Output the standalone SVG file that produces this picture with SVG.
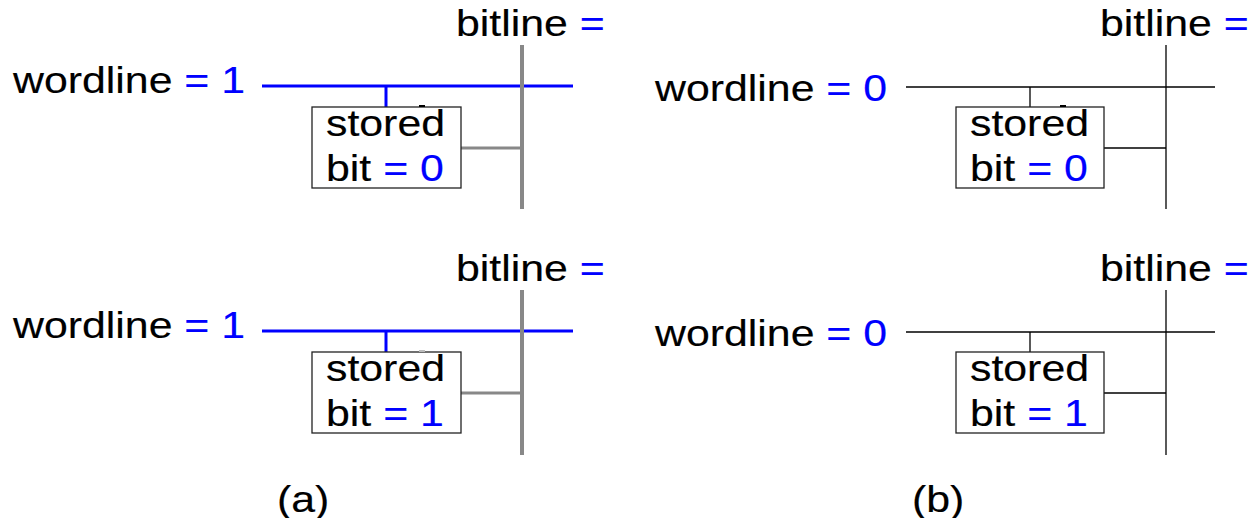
<svg xmlns="http://www.w3.org/2000/svg" width="1253" height="518" viewBox="0 0 1253 518">
<style>
text{font-family:"Liberation Sans",Arial,sans-serif;font-size:36px;fill:#000;stroke:#000;stroke-width:0.15}
.b{fill:#0000ff;stroke:#0000ff}
.wl1{stroke:#0000ff;stroke-width:3;fill:none}
.bl1{stroke:#888888;stroke-width:4;fill:none}
.bl1h{stroke:#888888;stroke-width:3;fill:none}
.thin{stroke:#000;stroke-width:1.3;fill:none}
.box{fill:#fff;stroke:#222;stroke-width:1.3}
.tick{stroke:#000;stroke-width:2}
.tickg{stroke:#bbb;stroke-width:2}
</style>
<rect width="1253" height="518" fill="#fff"/>
<g id="connectors">
  <!-- (a) top -->
  <line class="wl1" x1="262" y1="86" x2="573" y2="86"/>
  <line class="wl1" x1="386" y1="86" x2="386" y2="107"/>
  <line class="bl1" x1="522" y1="45" x2="522" y2="209"/>
  <line class="bl1h" x1="461" y1="148" x2="522" y2="148"/>
  <!-- (a) bottom -->
  <line class="wl1" x1="262" y1="331" x2="573" y2="331"/>
  <line class="wl1" x1="386" y1="331" x2="386" y2="352"/>
  <line class="bl1" x1="522" y1="290" x2="522" y2="455"/>
  <line class="bl1h" x1="461" y1="393" x2="522" y2="393"/>
  <!-- (b) top -->
  <line class="thin" x1="906" y1="87" x2="1215" y2="87"/>
  <line class="thin" x1="1030" y1="87" x2="1030" y2="107"/>
  <line class="thin" x1="1166" y1="45" x2="1166" y2="209"/>
  <line class="thin" x1="1104" y1="148" x2="1166" y2="148"/>
  <!-- (b) bottom -->
  <line class="thin" x1="906" y1="332" x2="1215" y2="332"/>
  <line class="thin" x1="1030" y1="332" x2="1030" y2="352"/>
  <line class="thin" x1="1166" y1="290" x2="1166" y2="455"/>
  <line class="thin" x1="1104" y1="393" x2="1166" y2="393"/>
</g>
<g id="cell-a-top">
  <rect class="box" x="312" y="107" width="149" height="81"/>
  <line class="tick" x1="419" y1="106" x2="425" y2="106"/>
  <text transform="translate(326,136) scale(1.19,1)">stored</text>
  <text transform="translate(326,181) scale(1.19,1)">bit <tspan class="b">= 0</tspan></text>
</g>
<g id="cell-a-bottom">
  <rect class="box" x="312" y="352" width="149" height="81"/>
  <line class="tickg" x1="419" y1="351" x2="425" y2="351"/>
  <text transform="translate(326,381) scale(1.19,1)">stored</text>
  <text transform="translate(326,426) scale(1.19,1)">bit <tspan class="b">= 1</tspan></text>
</g>
<g id="cell-b-top">
  <rect class="box" x="956" y="107" width="148" height="81"/>
  <line class="tick" x1="1060" y1="106" x2="1066" y2="106"/>
  <text transform="translate(970,136) scale(1.19,1)">stored</text>
  <text transform="translate(970,181) scale(1.19,1)">bit <tspan class="b">= 0</tspan></text>
</g>
<g id="cell-b-bottom">
  <rect class="box" x="956" y="352" width="148" height="81"/>
  <text transform="translate(970,381) scale(1.19,1)">stored</text>
  <text transform="translate(970,426) scale(1.19,1)">bit <tspan class="b">= 1</tspan></text>
</g>
<g id="labels">
  <text transform="translate(13,93) scale(1.19,1)">wordline <tspan class="b">= 1</tspan></text>
  <text transform="translate(456,36) scale(1.19,1)">bitline <tspan class="b">=</tspan></text>
  <text transform="translate(13,338) scale(1.19,1)">wordline <tspan class="b">= 1</tspan></text>
  <text transform="translate(456,281) scale(1.19,1)">bitline <tspan class="b">=</tspan></text>
  <text transform="translate(655,101) scale(1.19,1)">wordline <tspan class="b">= 0</tspan></text>
  <text transform="translate(1100,36) scale(1.19,1)">bitline <tspan class="b">=</tspan></text>
  <text transform="translate(655,346) scale(1.19,1)">wordline <tspan class="b">= 0</tspan></text>
  <text transform="translate(1100,281) scale(1.19,1)">bitline <tspan class="b">=</tspan></text>
  <text transform="translate(277,512) scale(1.19,1)">(a)</text>
  <text transform="translate(912,512) scale(1.19,1)">(b)</text>
</g>
</svg>
